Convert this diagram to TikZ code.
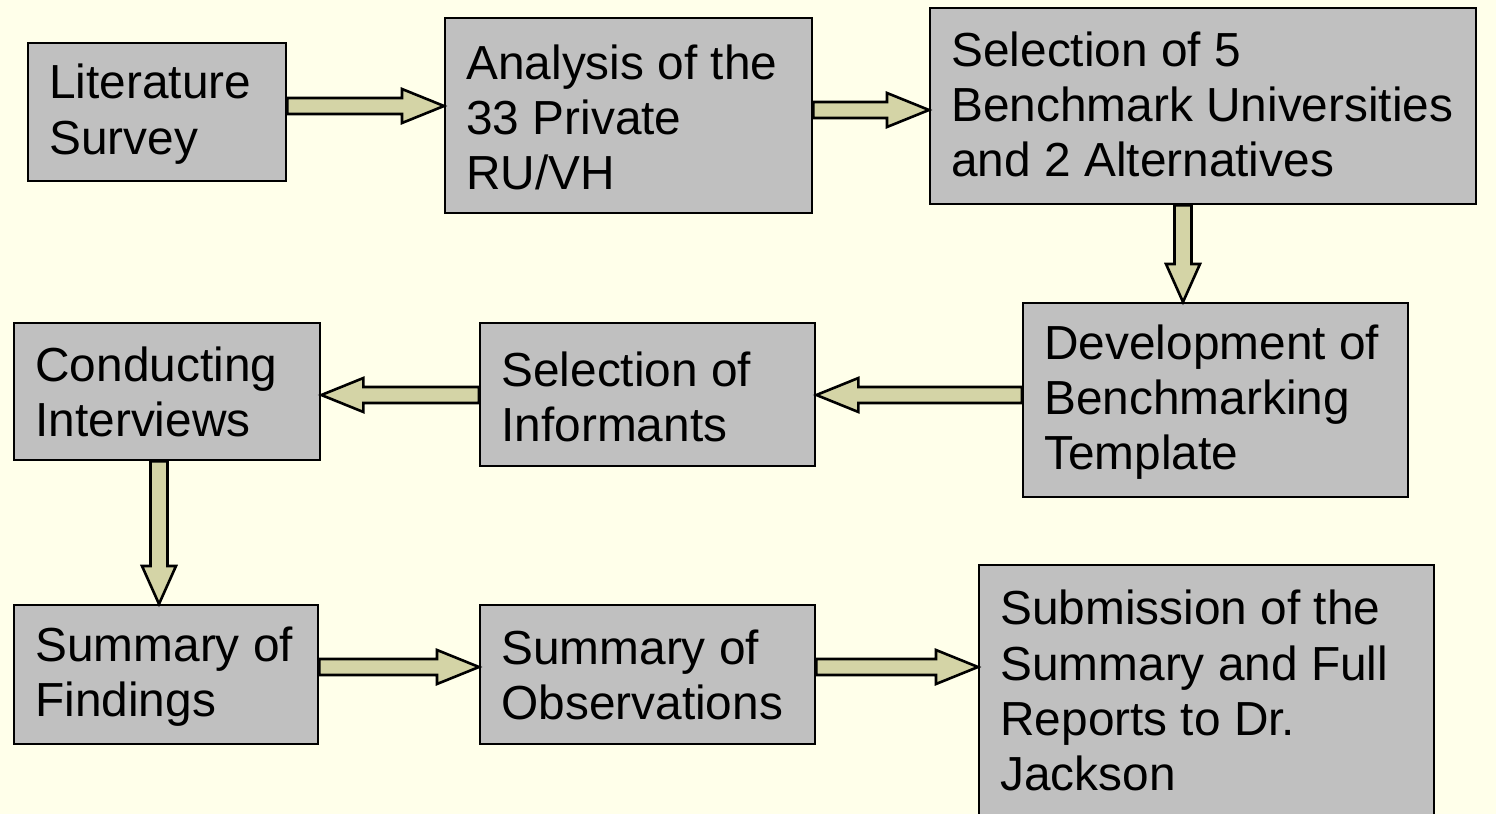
\documentclass[tikz,border=0pt]{standalone}
\usepackage{fontspec}
\setmainfont{Liberation Sans}
\usetikzlibrary{calc}
\definecolor{bgyellow}{RGB}{255,255,234}
\definecolor{boxgray}{RGB}{192,192,192}
\definecolor{arrowfill}{RGB}{212,212,166}
\def\u{0.5pt}
\tikzset{
  boxshape/.style={draw=black, line width=1.2pt, fill=boxgray, anchor=north west, inner sep=0pt},
  boxtext/.style={anchor=west, align=left, inner sep=0pt, font=\fontsize{23.9}{27.6}\selectfont},
  barrow/.style={draw=black, line width=1.3pt, fill=arrowfill, line join=miter},
}
% \bx{name}{x}{y}{w}{h}{yshift of text}{text}
\newcommand{\bx}[7]{%
  \node[boxshape, minimum width=#4*\u, minimum height=#5*\u] (#1) at (#2,#3) {};
  \node[boxtext] (#1t) at ([xshift=11pt,yshift=#6]#1.west) {#7};
}
% horizontal block arrow: start coord, tip coord, direction (1 right, -1 left)
\newcommand{\harrow}[3]{%
  \draw[barrow] ($(#1)+(0,-8)$) -- ($(#2)+({-42*(#3)},-8)$) -- ($(#2)+({-42*(#3)},-17)$) -- (#2)
    -- ($(#2)+({-42*(#3)},17)$) -- ($(#2)+({-42*(#3)},8)$) -- ($(#1)+(0,8)$) -- cycle;
}
% vertical (downward) block arrow
\newcommand{\varrow}[2]{%
  \draw[barrow] ($(#1)+(-8.5,0)$) -- ($(#2)+(-8.5,-38)$) -- ($(#2)+(-17,-38)$) -- (#2)
    -- ($(#2)+(17,-38)$) -- ($(#2)+(8.5,-38)$) -- ($(#1)+(8.5,0)$) -- cycle;
}
\begin{document}
\begin{tikzpicture}[x=0.5pt,y=-0.5pt]
\useasboundingbox (0,0) rectangle (1496,814);
\fill[bgyellow] (0,0) rectangle (1496,814);

\bx{b1}{27}{42}{258}{138}{-1pt}{Literature\\Survey}
\bx{b2}{444}{17}{367}{195}{-1pt}{Analysis of the\\33 Private\\RU/VH}
\bx{b3}{929}{7}{546}{196}{1pt}{Selection of 5\\Benchmark Universities\\and 2 Alternatives}
\bx{b4}{1022}{302}{385}{194}{-1pt}{Development of\\Benchmarking\\Template}
\bx{b5}{479}{322}{335}{143}{-1pt}{Selection of\\Informants}
\bx{b6}{13}{322}{306}{137}{0pt}{Conducting\\Interviews}
\bx{b7}{13}{604}{304}{139}{-1pt}{Summary of\\Findings}
\bx{b8}{479}{604}{335}{139}{0pt}{Summary of\\Observations}
\bx{b9}{978}{564}{455}{275}{6pt}{Submission of the\\Summary and Full\\Reports to Dr.\\Jackson}

\coordinate (a1s) at (b1.east |- 0,106);
\coordinate (a1e) at (b2.west |- 0,106);
\coordinate (a2s) at (b2.east |- 0,110);
\coordinate (a2e) at (b3.west |- 0,110);
\coordinate (a3s) at (b3.south -| 1183,0);
\coordinate (a3e) at (b4.north -| 1183,0);
\coordinate (a4s) at (b4.west |- 0,395);
\coordinate (a4e) at (b5.east |- 0,395);
\coordinate (a5s) at (b5.west |- 0,395);
\coordinate (a5e) at (b6.east |- 0,395);
\coordinate (a6s) at (b6.south -| 159,0);
\coordinate (a6e) at (b7.north -| 159,0);
\coordinate (a7s) at (b7.east |- 0,667);
\coordinate (a7e) at (b8.west |- 0,667);
\coordinate (a8s) at (b8.east |- 0,667);
\coordinate (a8e) at (b9.west |- 0,667);

\harrow{a1s}{a1e}{1}
\harrow{a2s}{a2e}{1}
\varrow{a3s}{a3e}
\harrow{a4s}{a4e}{-1}
\harrow{a5s}{a5e}{-1}
\varrow{a6s}{a6e}
\harrow{a7s}{a7e}{1}
\harrow{a8s}{a8e}{1}
\end{tikzpicture}
\end{document}
